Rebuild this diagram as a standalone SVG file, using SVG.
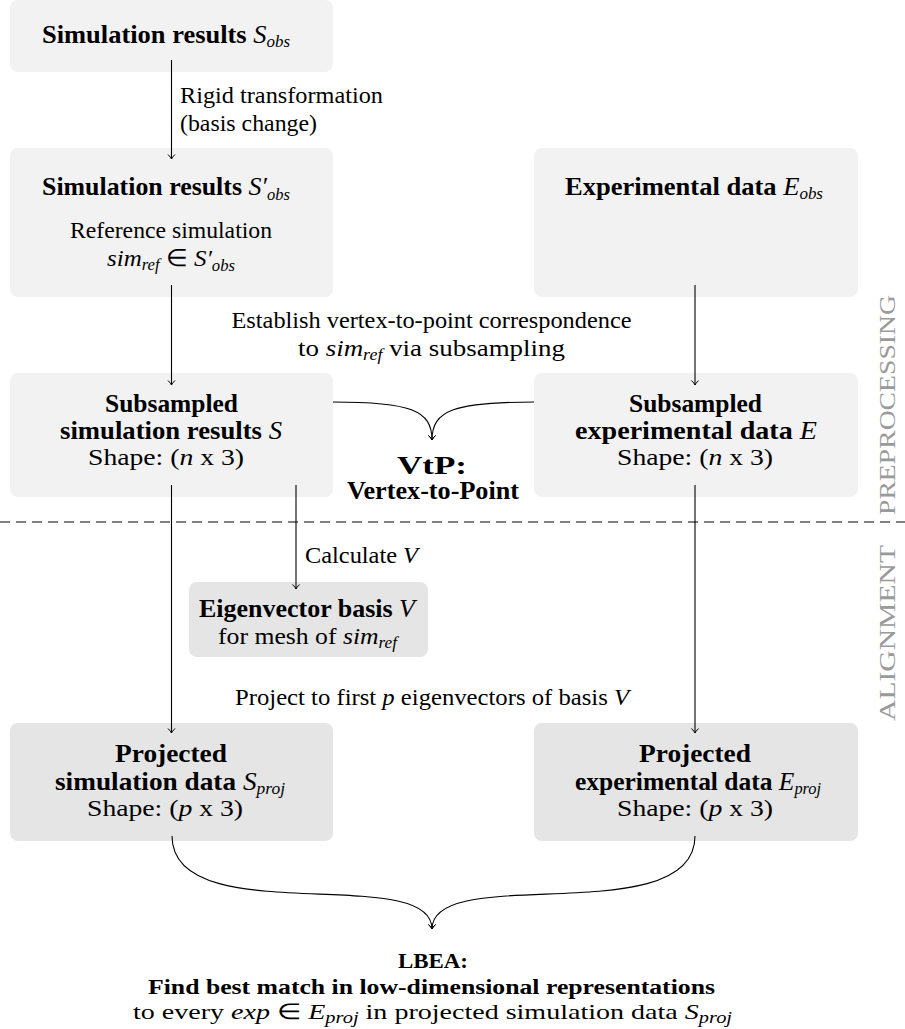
<svg xmlns="http://www.w3.org/2000/svg" width="905" height="1029" viewBox="0 0 905 1029">
<style>
text{font-family:"Liberation Serif","Times New Roman",serif;font-size:24px;fill:#000;text-anchor:middle}
.b{font-weight:bold;font-size:25px}
.l{text-anchor:start}
.i{font-style:italic;font-weight:normal}
.s{font-size:16px;font-style:italic;font-weight:normal}
.sm{font-size:22px}
.box1{fill:#f2f2f2}
.box2{fill:#e5e5e5}
.side{fill:#9a9a9a;font-size:23px}
.c{fill:none;stroke:#000;stroke-width:1.1}
</style>
<defs>
<marker id="ah" viewBox="-6 -5 8 10" markerWidth="8" markerHeight="10" refX="0" refY="0" orient="auto" markerUnits="userSpaceOnUse">
<path d="M-4.5,-3.5 Q-1.5,-0.5 0,0 Q-1.5,0.5 -4.5,3.5" fill="none" stroke="#000" stroke-width="1"/>
</marker>
</defs>
<g id="n-sobs">
<rect class="box1" x="10" y="0" width="323" height="72" rx="8"/>
<text class="b" x="166" y="43" textLength="248" lengthAdjust="spacingAndGlyphs">Simulation results <tspan class="i">S</tspan><tspan class="s" dy="4">obs</tspan></text>
</g>
<g id="n-sobs2">
<rect class="box1" x="10" y="148" width="323" height="149" rx="8"/>
<text class="b" x="166" y="195" textLength="248" lengthAdjust="spacingAndGlyphs">Simulation results <tspan class="i">S′</tspan><tspan class="s" dy="5">obs</tspan></text>
<text x="171" y="238" textLength="202" lengthAdjust="spacingAndGlyphs">Reference simulation</text>
<text x="171" y="266" textLength="128" lengthAdjust="spacingAndGlyphs"><tspan class="i">sim</tspan><tspan class="s" dy="4">ref</tspan><tspan dy="-4"> ∈ </tspan><tspan class="i">S′</tspan><tspan class="s" dy="5">obs</tspan></text>
</g>
<g id="n-eobs">
<rect class="box1" x="534" y="148" width="324" height="149" rx="8"/>
<text class="b" x="694" y="195" textLength="258" lengthAdjust="spacingAndGlyphs">Experimental data <tspan class="i">E</tspan><tspan class="s" dy="4">obs</tspan></text>
</g>
<g id="n-s">
<rect class="box1" x="10" y="373" width="323" height="124" rx="8"/>
<text class="b" x="171.5" y="412" textLength="133" lengthAdjust="spacingAndGlyphs">Subsampled</text>
<text class="b" x="171" y="439" textLength="222" lengthAdjust="spacingAndGlyphs">simulation results <tspan class="i">S</tspan></text>
<text x="166" y="465" textLength="156" lengthAdjust="spacingAndGlyphs">Shape: (<tspan class="i">n</tspan> x 3)</text>
</g>
<g id="n-e">
<rect class="box1" x="534" y="373" width="324" height="124" rx="8"/>
<text class="b" x="695.5" y="412" textLength="133" lengthAdjust="spacingAndGlyphs">Subsampled</text>
<text class="b" x="696" y="439" textLength="242" lengthAdjust="spacingAndGlyphs">experimental data <tspan class="i">E</tspan></text>
<text x="695" y="465" textLength="156" lengthAdjust="spacingAndGlyphs">Shape: (<tspan class="i">n</tspan> x 3)</text>
</g>
<g id="n-vtp">
<text class="b" x="432" y="474" textLength="70" lengthAdjust="spacingAndGlyphs">VtP:</text>
<text class="b" x="433" y="499" textLength="172" lengthAdjust="spacingAndGlyphs">Vertex-to-Point</text>
</g>
<g id="n-v">
<rect class="box2" x="189" y="582" width="239" height="75" rx="8"/>
<text class="b" x="307" y="617" textLength="216" lengthAdjust="spacingAndGlyphs">Eigenvector basis <tspan class="i">V</tspan></text>
<text x="307.5" y="644" textLength="179" lengthAdjust="spacingAndGlyphs">for mesh of <tspan class="i">sim</tspan><tspan class="s" dy="4">ref</tspan></text>
</g>
<g id="n-sproj">
<rect class="box2" x="10" y="723" width="323" height="118" rx="8"/>
<text class="b" x="171" y="762" textLength="112" lengthAdjust="spacingAndGlyphs">Projected</text>
<text class="b" x="170" y="790" textLength="230" lengthAdjust="spacingAndGlyphs">simulation data <tspan class="i">S</tspan><tspan class="s" dy="4">proj</tspan></text>
<text x="165" y="816" textLength="156" lengthAdjust="spacingAndGlyphs">Shape: (<tspan class="i">p</tspan> x 3)</text>
</g>
<g id="n-eproj">
<rect class="box2" x="534" y="723" width="324" height="118" rx="8"/>
<text class="b" x="695" y="762" textLength="112" lengthAdjust="spacingAndGlyphs">Projected</text>
<text class="b" x="698" y="790" textLength="246" lengthAdjust="spacingAndGlyphs">experimental data <tspan class="i">E</tspan><tspan class="s" dy="4">proj</tspan></text>
<text x="695" y="816" textLength="156" lengthAdjust="spacingAndGlyphs">Shape: (<tspan class="i">p</tspan> x 3)</text>
</g>
<g id="n-lbea">
<text class="b sm" x="433" y="968" textLength="70" lengthAdjust="spacingAndGlyphs">LBEA:</text>
<text class="b sm" x="431.5" y="994" textLength="567" lengthAdjust="spacingAndGlyphs">Find best match in low-dimensional representations</text>
<text class="sm" x="432.5" y="1019" textLength="599" lengthAdjust="spacingAndGlyphs">to every <tspan class="i">exp</tspan> ∈ <tspan class="i">E</tspan><tspan class="s" dy="4">proj</tspan><tspan dy="-4"> in projected simulation data </tspan><tspan class="i">S</tspan><tspan class="s" dy="4">proj</tspan></text>
</g>
<g id="side-labels">
<text class="side" transform="translate(895,405) rotate(-90)" textLength="220" lengthAdjust="spacingAndGlyphs">PREPROCESSING</text>
<text class="side" transform="translate(895,633) rotate(-90)" textLength="176" lengthAdjust="spacingAndGlyphs">ALIGNMENT</text>
</g>
<g id="connectors">
<path class="c" d="M171.5,60 V159" marker-end="url(#ah)"/>
<path class="c" d="M171.5,285 V385" marker-end="url(#ah)"/>
<path class="c" d="M695,285 V385" marker-end="url(#ah)"/>
<path class="c" d="M333,402 C410,402 432,410 432,440" marker-end="url(#ah)"/>
<path class="c" d="M534,402 C455,402 432,410 432,440" marker-end="url(#ah)"/>
<path class="c" d="M171.5,485 V733" marker-end="url(#ah)"/>
<path class="c" d="M296,485 V589" marker-end="url(#ah)"/>
<path class="c" d="M695,485 V733" marker-end="url(#ah)"/>
<path class="c" d="M172,836 C172,932 432,862 432,929" marker-end="url(#ah)"/>
<path class="c" d="M695,836 C695,932 432,862 432,929" marker-end="url(#ah)"/>
<line x1="0" y1="522" x2="905" y2="522" stroke="#000" stroke-width="1" stroke-dasharray="10,6"/>
</g>
<g id="edge-labels">
<text class="l" x="180" y="103" textLength="203" lengthAdjust="spacingAndGlyphs">Rigid transformation</text>
<text class="l" x="180" y="131" textLength="137" lengthAdjust="spacingAndGlyphs">(basis change)</text>
<text x="431.5" y="328" textLength="400" lengthAdjust="spacingAndGlyphs">Establish vertex-to-point correspondence</text>
<text x="431.5" y="356" textLength="267" lengthAdjust="spacingAndGlyphs">to <tspan class="i">sim</tspan><tspan class="s" dy="4">ref</tspan><tspan dy="-4"> via subsampling</tspan></text>
<text class="l" x="305" y="563" textLength="113" lengthAdjust="spacingAndGlyphs">Calculate <tspan class="i">V</tspan></text>
<text x="432" y="705" textLength="394" lengthAdjust="spacingAndGlyphs">Project to first <tspan class="i">p</tspan> eigenvectors of basis <tspan class="i">V</tspan></text>
</g>
</svg>
